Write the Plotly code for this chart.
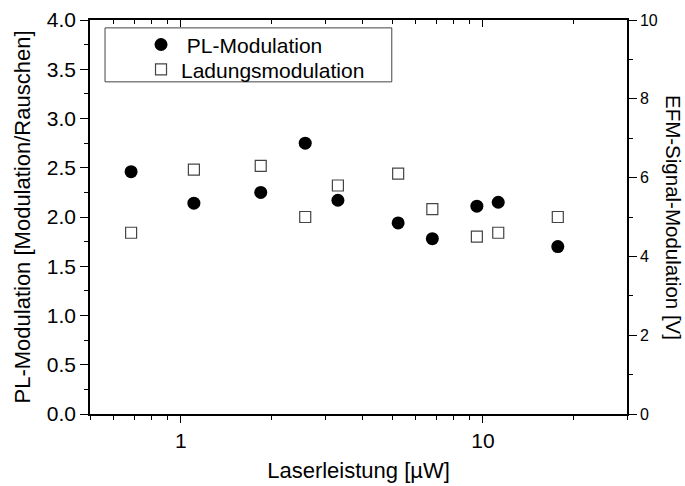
import numpy as np
import plotly.graph_objects as go

# Data
laser_power = [0.684, 1.104, 1.838, 2.58, 3.31, 5.24, 6.80, 9.55, 11.24, 17.7]
pl_modulation = [2.46, 2.14, 2.25, 2.75, 2.17, 1.94, 1.78, 2.11, 2.15, 1.70]
charge_modulation = [4.6, 6.2, 6.3, 5.0, 5.8, 6.1, 5.2, 4.5, 4.6, 5.0]

x_major = [1, 10]
x_major_text = ["1", "10"]
x_minor = [0.5, 0.6, 0.7, 0.8, 0.9, 2, 3, 4, 5, 6, 7, 8, 9, 20, 30]

FONT = "Liberation Sans, Arial, sans-serif"

fig = go.Figure()
fig.add_trace(go.Scatter(
    x=laser_power, y=pl_modulation, mode="markers", name=" PL-Modulation",
    marker=dict(symbol="circle", size=13, color="black", line=dict(width=0)),
    xaxis="x", yaxis="y", legend="legend"))
fig.add_trace(go.Scatter(
    x=laser_power, y=charge_modulation, mode="markers", name="Ladungsmodulation",
    marker=dict(symbol="square-open", size=11, color="#444", line=dict(width=1.2)),
    xaxis="x", yaxis="y2", legend="legend2"))
# invisible trace so the top axis is drawn
fig.add_trace(go.Scatter(x=[1], y=[0], mode="markers", marker=dict(opacity=0),
                         showlegend=False, hoverinfo="skip", xaxis="x2", yaxis="y"))

xr = [np.log10(0.5), np.log10(30)]
axis_common = dict(showgrid=False, zeroline=False, showline=True, linecolor="black",
                   linewidth=1.5, tickcolor="black", tickwidth=1.3)
legend_common = dict(xanchor="left", yanchor="top", bgcolor="rgba(0,0,0,0)",
                     borderwidth=0, font=dict(size=21, family=FONT),
                     itemsizing="trace")

fig.update_layout(
    width=685, height=486,
    margin=dict(l=90, r=58, t=20, b=72, autoexpand=False),
    paper_bgcolor="white", plot_bgcolor="white",
    font=dict(family=FONT, color="black"),
    showlegend=True,
    legend=dict(x=0.095, y=0.989, **legend_common),
    legend2=dict(x=0.095, y=0.926, **legend_common),
    xaxis=dict(type="log", range=xr, tickmode="array", tickvals=x_major,
               ticktext=x_major_text, ticks="outside", ticklen=7,
               tickfont=dict(size=21),
               minor=dict(tickmode="array", tickvals=x_minor, ticks="outside",
                          ticklen=4, tickcolor="black", tickwidth=1.3),
               title=dict(text="Laserleistung [µW]", font=dict(size=22), standoff=12),
               anchor="y", **axis_common),
    xaxis2=dict(type="log", range=xr, overlaying="x", side="top", anchor="y",
                tickmode="array", tickvals=x_major, ticks="inside", ticklen=7,
                showticklabels=False,
                minor=dict(tickmode="array", tickvals=x_minor, ticks="inside",
                           ticklen=4, tickcolor="black", tickwidth=1.3),
                **axis_common),
    yaxis=dict(range=[0, 4], tickmode="linear", tick0=0, dtick=0.5,
               tickformat=".1f", ticks="outside", ticklen=8,
               tickfont=dict(size=21),
               minor=dict(dtick=0.25, ticks="outside", ticklen=4,
                          tickcolor="black", tickwidth=1.3),
               title=dict(text="PL-Modulation [Modulation/Rauschen]",
                          font=dict(size=22), standoff=10),
               anchor="x", **axis_common),
    yaxis2=dict(range=[0, 10], overlaying="y", side="right", anchor="x",
                tickmode="linear", tick0=0, dtick=2, ticks="outside", ticklen=8,
                tickfont=dict(size=16),
                minor=dict(dtick=1, ticks="outside", ticklen=4,
                           tickcolor="black", tickwidth=1.3),
                **axis_common),
    shapes=[dict(type="rect", xref="paper", yref="paper",
                 x0=0.028, x1=0.562, y0=0.843, y1=0.980,
                 line=dict(color="#444", width=1), fillcolor="rgba(0,0,0,0)")],
    annotations=[dict(text="EFM-Signal-Modulation [V]", xref="paper", yref="paper",
                      x=1.0, xshift=47, y=0.5, textangle=90, showarrow=False,
                      font=dict(size=20.5, family=FONT), xanchor="center", yanchor="middle")],
)

fig.write_html("out.html")
